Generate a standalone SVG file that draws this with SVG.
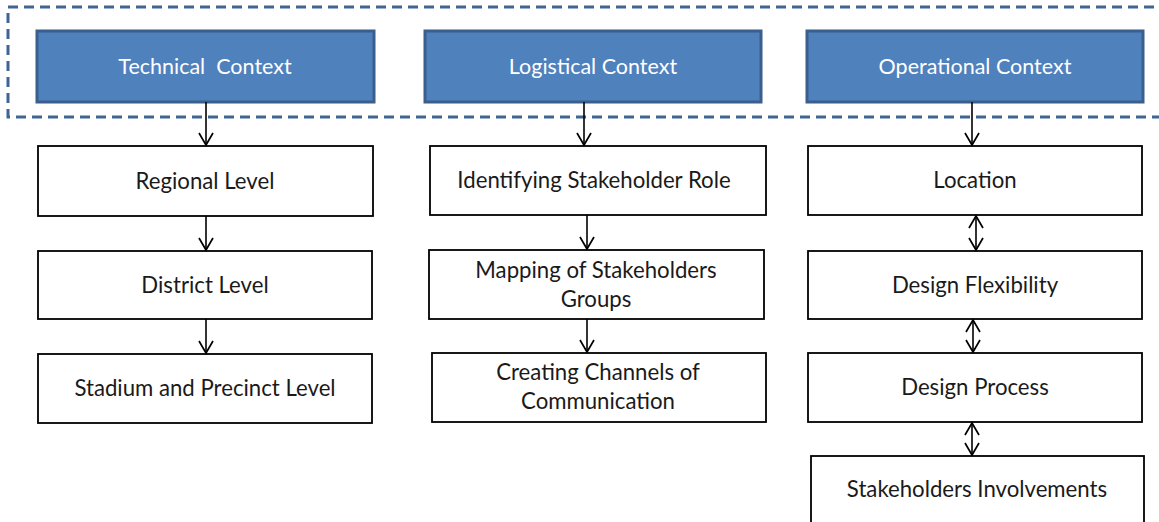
<svg xmlns="http://www.w3.org/2000/svg" width="1159" height="522" viewBox="0 0 1159 522">
<style>
.hdr rect{fill:#4F81BD;stroke:#3B5F8C;stroke-width:3}
.hdr text{fill:#FFFFFF;font-size:21.5px}
.box rect{fill:#FFFFFF;stroke:#000000;stroke-width:1.8}
text{font-family:Lato,"Open Sans","Liberation Sans",sans-serif;font-size:22.2px;text-anchor:middle;fill:#1a1a1a;white-space:pre}
.con line{stroke:#000000;stroke-width:1.6;fill:none}
.frame{fill:none;stroke:#3F6595;stroke-width:3;stroke-dasharray:10 6}
</style>
<defs>
<marker id="ah" markerUnits="userSpaceOnUse" markerWidth="18" markerHeight="18" viewBox="-15 -9 18 18" refX="0" refY="0" orient="auto-start-reverse">
<path d="M-12,-7 L0,0 L-12,7" fill="none" stroke="#000" stroke-width="1.7"/>
</marker>
</defs>
<rect class="frame" x="8" y="7" width="1170" height="110"/>
<g id="technical" class="hdr"><rect x="37" y="31" width="337" height="71"/><text x="205" y="74">Technical  Context</text></g>
<g id="logistical" class="hdr"><rect x="425" y="31" width="336" height="71"/><text x="593" y="74">Logistical Context</text></g>
<g id="operational" class="hdr"><rect x="807" y="31" width="336" height="71"/><text x="975" y="74">Operational Context</text></g>
<g id="regional" class="box"><rect x="38" y="146" width="335" height="70"/><text x="205" y="189">Regional Level</text></g>
<g id="district" class="box"><rect x="38" y="251" width="334" height="68"/><text x="205" y="293">District Level</text></g>
<g id="stadium" class="box"><rect x="38" y="354" width="334" height="69"/><text x="205" y="396">Stadium and Precinct Level</text></g>
<g id="identifying" class="box"><rect x="430" y="146" width="336" height="69"/><text x="594" y="188">Identifying Stakeholder Role</text></g>
<g id="mapping" class="box"><rect x="429" y="250" width="335" height="69"/><text x="596" y="278">Mapping of Stakeholders</text><text x="596" y="307">Groups</text></g>
<g id="creating" class="box"><rect x="432" y="353" width="334" height="69"/><text x="598" y="380">Creating Channels of</text><text x="598" y="409">Communication</text></g>
<g id="location" class="box"><rect x="808" y="146" width="334" height="69"/><text x="975" y="188">Location</text></g>
<g id="flexibility" class="box"><rect x="808" y="251" width="334" height="68"/><text x="975" y="293">Design Flexibility</text></g>
<g id="process" class="box"><rect x="808" y="353" width="334" height="69"/><text x="975" y="395">Design Process</text></g>
<g id="involvements" class="box"><rect x="811" y="456" width="333" height="80"/><text x="977" y="497">Stakeholders Involvements</text></g>
<g id="connectors" class="con">
<line x1="206" y1="102" x2="206" y2="145" marker-end="url(#ah)"/>
<line x1="206" y1="216" x2="206" y2="250" marker-end="url(#ah)"/>
<line x1="206" y1="319" x2="206" y2="353" marker-end="url(#ah)"/>
<line x1="584" y1="102" x2="584" y2="145" marker-end="url(#ah)"/>
<line x1="587" y1="215" x2="587" y2="249" marker-end="url(#ah)"/>
<line x1="587" y1="319" x2="587" y2="352" marker-end="url(#ah)"/>
<line x1="972" y1="102" x2="972" y2="145" marker-end="url(#ah)"/>
<line x1="976" y1="216" x2="976" y2="250" marker-start="url(#ah)" marker-end="url(#ah)"/>
<line x1="973" y1="320" x2="973" y2="352" marker-start="url(#ah)" marker-end="url(#ah)"/>
<line x1="972" y1="423" x2="972" y2="455" marker-start="url(#ah)" marker-end="url(#ah)"/>
</g>
</svg>
